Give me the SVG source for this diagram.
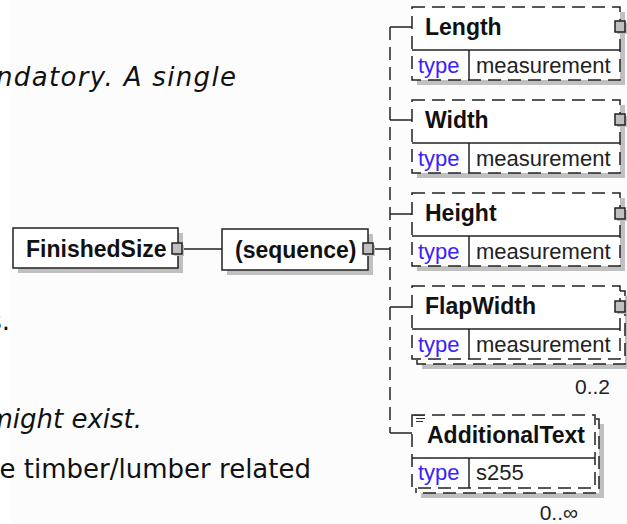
<svg xmlns="http://www.w3.org/2000/svg" width="627" height="524" viewBox="0 0 627 524">
<style>
.bg{fill:#fcfcfd}
.para{font-family:Verdana,"DejaVu Sans",sans-serif;font-size:26px;fill:#111}
.it{font-style:italic}
.box{fill:#fff;stroke:#222;stroke-width:1.5}
.dash{fill:#fff;stroke:#222;stroke-width:1.5;stroke-dasharray:13 7}
.shadow{fill:#c0c0c0}
.ln{stroke:#222;stroke-width:1.5;fill:none}
.dln{stroke:#222;stroke-width:1.5;fill:none;stroke-dasharray:13 7}
.sq{fill:#c0c0c0;stroke:#222;stroke-width:1.5}
.name{font-family:"Liberation Sans",Arial,sans-serif;font-weight:bold;font-size:23px;fill:#111}
.type{font-family:"Liberation Sans",Arial,sans-serif;font-size:22px;fill:#3a22ff}
.val{font-family:"Liberation Sans",Arial,sans-serif;font-size:22px;fill:#222}
.mult{font-family:"Liberation Sans",Arial,sans-serif;font-size:21px;fill:#222}
</style>
<rect class="bg" x="0" y="0" width="627" height="524"/>
<rect x="0" y="0" width="10" height="524" fill="#fff"/>

<g id="background-text">
<text class="para it" x="-4" y="86" textLength="240" lengthAdjust="spacing">ndatory. A single</text>
<text class="para" x="10" y="330" text-anchor="end">s.</text>
<text class="para it" x="142" y="428" text-anchor="end">might exist.</text>
<text class="para" x="311" y="478" text-anchor="end">e timber/lumber related</text>
</g>

<g id="connectors">
<line class="ln" x1="182" y1="249" x2="222" y2="249"/>
<line class="ln" x1="373" y1="249" x2="390" y2="249"/>
<line class="dln" x1="390" y1="27" x2="390" y2="433"/>
<line class="ln" x1="390" y1="27" x2="412" y2="27"/>
<line class="ln" x1="390" y1="120" x2="412" y2="120"/>
<line class="ln" x1="390" y1="214" x2="412" y2="214"/>
<line class="ln" x1="390" y1="307" x2="412" y2="307"/>
<line class="ln" x1="390" y1="433" x2="412" y2="433"/>
</g>

<g id="FinishedSize">
<rect class="shadow" x="18" y="233" width="165" height="40"/>
<rect class="box" x="13" y="228" width="165" height="40"/>
<text class="name" x="26" y="257">FinishedSize</text>
<rect class="shadow" x="174" y="245" width="10" height="11"/>
<rect class="sq" x="172" y="243" width="10" height="11"/>
</g>

<g id="sequence">
<rect class="shadow" x="227" y="234" width="146" height="41"/>
<rect class="box" x="222" y="229" width="146" height="41"/>
<text class="name" x="235" y="258">(sequence)</text>
<rect class="shadow" x="365" y="245" width="10" height="11"/>
<rect class="sq" x="363" y="243" width="10" height="11"/>
</g>

<g id="Length">
<rect class="shadow" x="417" y="12" width="208" height="73"/>
<rect class="dash" x="412" y="7" width="208" height="73"/>
<line class="ln" x1="412" y1="50" x2="620" y2="50"/>
<line class="ln" x1="469" y1="50" x2="469" y2="80"/>
<text class="name" x="425" y="35">Length</text>
<text class="type" x="418" y="73">type</text>
<text class="val" x="476" y="73">measurement</text>
<rect class="shadow" x="617" y="23" width="10" height="11"/>
<rect class="sq" x="615" y="21" width="10" height="11"/>
</g>

<g id="Width">
<rect class="shadow" x="417" y="105" width="208" height="73"/>
<rect class="dash" x="412" y="100" width="208" height="73"/>
<line class="ln" x1="412" y1="143" x2="620" y2="143"/>
<line class="ln" x1="469" y1="143" x2="469" y2="173"/>
<text class="name" x="425" y="128">Width</text>
<text class="type" x="418" y="166">type</text>
<text class="val" x="476" y="166">measurement</text>
<rect class="shadow" x="617" y="116" width="10" height="11"/>
<rect class="sq" x="615" y="114" width="10" height="11"/>
</g>

<g id="Height">
<rect class="shadow" x="417" y="198" width="208" height="73"/>
<rect class="dash" x="412" y="193" width="208" height="73"/>
<line class="ln" x1="412" y1="236" x2="620" y2="236"/>
<line class="ln" x1="469" y1="236" x2="469" y2="266"/>
<text class="name" x="425" y="221">Height</text>
<text class="type" x="418" y="259">type</text>
<text class="val" x="476" y="259">measurement</text>
<rect class="shadow" x="617" y="210" width="10" height="11"/>
<rect class="sq" x="615" y="208" width="10" height="11"/>
</g>

<g id="FlapWidth">
<rect class="shadow" x="422" y="296" width="208" height="73"/>
<rect class="dash" x="417" y="291" width="208" height="73"/>
<rect class="dash" x="412" y="286" width="208" height="73"/>
<line class="ln" x1="412" y1="329" x2="620" y2="329"/>
<line class="ln" x1="469" y1="329" x2="469" y2="359"/>
<text class="name" x="425" y="314">FlapWidth</text>
<text class="type" x="418" y="352">type</text>
<text class="val" x="476" y="352">measurement</text>
<rect class="shadow" x="617" y="303" width="10" height="11"/>
<rect class="sq" x="615" y="301" width="10" height="11"/>
<text class="mult" x="610" y="394" text-anchor="end">0..2</text>
</g>

<g id="AdditionalText">
<rect class="shadow" x="421" y="424" width="183" height="74"/>
<rect class="dash" x="416" y="419" width="183" height="74"/>
<rect class="dash" x="412" y="415" width="183" height="73"/>
<line class="ln" x1="412" y1="458" x2="595" y2="458"/>
<line class="ln" x1="469" y1="458" x2="469" y2="488"/>
<line x1="414" y1="415.5" x2="425" y2="415.5" stroke="#333" stroke-width="1"/>
<line x1="416" y1="418.5" x2="425" y2="418.5" stroke="#333" stroke-width="1"/>
<line x1="416" y1="421.5" x2="423" y2="421.5" stroke="#333" stroke-width="1"/>
<text class="name" x="427" y="443">AdditionalText</text>
<text class="type" x="418" y="480">type</text>
<text class="val" x="476" y="480">s255</text>
<text class="mult" x="578" y="520" text-anchor="end">0..∞</text>
</g>
</svg>
